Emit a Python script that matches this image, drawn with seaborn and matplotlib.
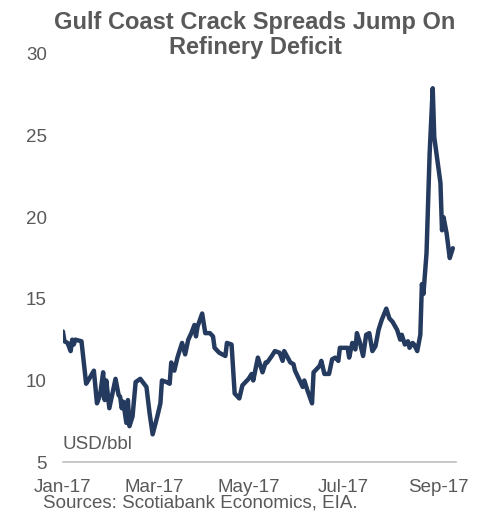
import pandas as pd
import seaborn as sns
import matplotlib.pyplot as plt
import matplotlib.dates as mdates

# Gulf Coast crack spread, USD/bbl
dates = ['2017-01-01', '2017-01-02', '2017-01-04', '2017-01-06', '2017-01-07', '2017-01-08',
         '2017-01-09', '2017-01-13', '2017-01-16', '2017-01-18', '2017-01-21', '2017-01-23',
         '2017-01-25', '2017-01-27', '2017-01-28', '2017-01-29', '2017-01-31', '2017-02-04',
         '2017-02-06', '2017-02-07', '2017-02-08', '2017-02-09', '2017-02-11', '2017-02-12',
         '2017-02-13', '2017-02-15', '2017-02-17', '2017-02-20', '2017-02-24', '2017-02-26',
         '2017-02-28', '2017-03-03', '2017-03-05', '2017-03-06', '2017-03-09', '2017-03-11',
         '2017-03-12', '2017-03-14', '2017-03-16', '2017-03-19', '2017-03-21', '2017-03-23',
         '2017-03-25', '2017-03-27', '2017-03-28', '2017-03-29', '2017-04-01', '2017-04-03',
         '2017-04-06', '2017-04-08', '2017-04-09', '2017-04-12', '2017-04-16', '2017-04-17',
         '2017-04-20', '2017-04-22', '2017-04-25', '2017-04-27', '2017-05-01', '2017-05-03',
         '2017-05-04', '2017-05-07', '2017-05-10', '2017-05-12', '2017-05-13', '2017-05-16',
         '2017-05-18', '2017-05-21', '2017-05-23', '2017-05-24', '2017-05-28', '2017-05-30',
         '2017-05-31', '2017-06-03', '2017-06-05', '2017-06-06', '2017-06-08', '2017-06-11',
         '2017-06-12', '2017-06-15', '2017-06-16', '2017-06-17', '2017-06-19', '2017-06-22',
         '2017-06-24', '2017-06-26', '2017-06-28', '2017-06-29', '2017-07-02', '2017-07-04',
         '2017-07-05', '2017-07-07', '2017-07-09', '2017-07-10', '2017-07-12', '2017-07-14',
         '2017-07-16', '2017-07-18', '2017-07-20', '2017-07-22', '2017-07-24', '2017-07-26',
         '2017-07-29', '2017-07-31', '2017-08-02', '2017-08-05', '2017-08-07', '2017-08-08',
         '2017-08-10', '2017-08-12', '2017-08-13', '2017-08-15', '2017-08-16', '2017-08-18',
         '2017-08-20', '2017-08-21', '2017-08-22', '2017-08-24', '2017-08-26', '2017-08-28',
         '2017-08-29', '2017-09-02', '2017-09-03', '2017-09-04', '2017-09-06', '2017-09-08',
         '2017-09-10']
spread = [13.0, 12.4, 12.3, 11.8, 12.5, 12.2,
          12.5, 12.4, 9.8, 10.1, 10.6, 8.6,
          9.1, 10.5, 8.8, 10.0, 8.3, 10.1,
          9.1, 9.0, 8.3, 8.7, 7.4, 8.8,
          7.2, 7.8, 9.9, 10.1, 9.6, 8.0,
          6.7, 7.8, 8.6, 10.0, 9.9, 9.8,
          11.1, 10.6, 11.4, 12.3, 11.6, 12.5,
          12.9, 13.4, 12.7, 13.3, 14.1, 12.9,
          12.9, 12.7, 12.0, 11.7, 11.5, 12.3,
          12.2, 9.2, 8.9, 9.7, 10.1, 10.4,
          10.0, 11.4, 10.5, 11.1, 11.1, 11.5,
          11.8, 11.7, 11.2, 11.8, 11.1, 11.0,
          10.6, 10.0, 9.6, 10.0, 9.4, 8.6,
          10.5, 10.8, 10.9, 11.2, 10.4, 10.4,
          11.3, 11.4, 11.2, 12.0, 12.0, 12.0,
          11.4, 12.3, 11.9, 12.9, 12.3, 11.5,
          12.8, 12.9, 11.8, 12.1, 13.1, 13.7,
          14.4, 13.8, 13.6, 13.1, 12.5, 12.8,
          12.2, 12.4, 12.0, 12.3, 12.2, 11.8,
          12.8, 15.9, 15.3, 17.8, 23.9, 27.9,
          24.9, 22.1, 19.2, 20.0, 19.0, 17.5,
          18.1]

tick_dates = ['2017-01-01', '2017-03-01', '2017-05-01', '2017-07-01', '2017-09-01']

df = pd.DataFrame({'date': pd.to_datetime(dates), 'spread': spread})

sns.set_style('white')
plt.rcParams['font.family'] = ['Liberation Sans', 'DejaVu Sans']

grey = '#595959'
fig = plt.figure(figsize=(4.84, 5.14), dpi=100)
ax = fig.add_axes([0.130, 0.101, 0.812, 0.794])

sns.lineplot(data=df, x='date', y='spread', color='#243a5e', linewidth=3.2, ax=ax)

ax.set_xlim(pd.Timestamp('2017-01-01'), pd.Timestamp('2017-09-12'))
ax.set_ylim(5, 30)
ax.set_yticks([5, 10, 15, 20, 25, 30])
ax.set_xticks(pd.to_datetime(tick_dates))
ax.xaxis.set_major_formatter(mdates.DateFormatter('%b-%y'))
ax.set_xlabel('')
ax.set_ylabel('')

for side in ['top', 'right', 'left']:
    ax.spines[side].set_visible(False)
ax.spines['bottom'].set_color('#bfbfbf')
ax.spines['bottom'].set_linewidth(1.2)
ax.tick_params(axis='x', colors='#bfbfbf', labelcolor=grey, labelsize=13.5,
               length=4, width=1.2, direction='out', pad=8)
ax.tick_params(axis='y', labelcolor=grey, labelsize=13.5, length=0, pad=11.5)

ax.text(0.0, 0.042, 'USD/bbl', transform=ax.transAxes, color=grey,
        fontsize=13.5, ha='left', va='center')

fig.text(0.527, 0.979, 'Gulf Coast Crack Spreads Jump On\nRefinery Deficit',
         ha='center', va='top', color=grey, fontsize=17, fontweight='bold',
         linespacing=1.15)
fig.text(0.089, 0.021, 'Sources: Scotiabank Economics, EIA.', ha='left', va='center',
         color=grey, fontsize=13.5)

fig.savefig('out.png', dpi=100)
